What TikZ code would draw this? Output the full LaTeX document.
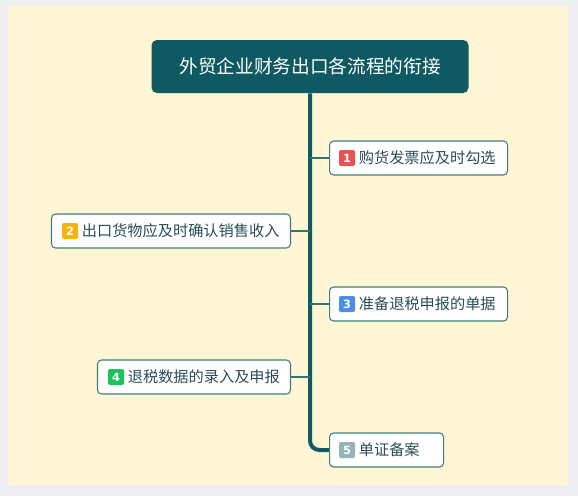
\documentclass[tikz,border=0pt]{standalone}
\usepackage{fontspec}
\setmainfont{Noto Sans CJK SC}
\newfontfamily\tagfont{DejaVu Sans}
\usetikzlibrary{positioning}
\definecolor{pageGray}{HTML}{EFEFF2}
\definecolor{paper}{HTML}{FFF6D6}
\definecolor{deepTeal}{HTML}{0E5962}
\definecolor{edgeTeal}{HTML}{3F7F78}
\definecolor{inkTeal}{HTML}{2A4E58}
\definecolor{tagRed}{HTML}{E8524F}
\definecolor{tagOrange}{HTML}{F6B40C}
\definecolor{tagBlue}{HTML}{4C8DEB}
\definecolor{tagGreen}{HTML}{1FC25A}
\definecolor{tagGray}{HTML}{94B3BA}

\begin{document}
\begin{tikzpicture}[x=0.75pt,y=-0.75pt,
  topic/.style={draw=edgeTeal,fill=white,rounded corners=3pt,line width=0.8pt,
    minimum height=25.5pt,inner sep=0pt},
  tag/.style={fill=#1,rounded corners=1.5pt,text=white,minimum size=12pt,inner sep=0pt,
    font=\tagfont\bfseries\fontsize{8.5}{8.5}\selectfont},
  lbl/.style={text=inkTeal,inner sep=0pt,font=\fontsize{11.4}{12}\selectfont},
  trunk/.style={draw=deepTeal,line width=3pt,rounded corners=7pt},
  twig/.style={draw=deepTeal!85,line width=1pt}]
% canvas
\fill[pageGray] (0,0) rectangle (578,496);
\fill[paper] (8,6) rectangle (568,485);
% central topic
\node[fill=deepTeal,rounded corners=4pt,minimum width=237.75pt,minimum height=39.75pt,
  text=white,font=\fontsize{14}{16}\selectfont] (title) at (310,66.5) {外贸企业财务出口各流程的衔接};
% subtopics, right side
\node[topic,minimum width=133.5pt,anchor=west] (b1) at (329,158) {};
\node[topic,minimum width=133.5pt,anchor=west] (b3) at (329,304) {};
\node[topic,minimum width=85.5pt,anchor=west] (b5) at (329,450) {};
% subtopics, left side
\node[topic,minimum width=179.25pt,anchor=east] (b2) at (291,231) {};
\node[topic,minimum width=144.75pt,anchor=east] (b4) at (291,377) {};
% tags and labels
\node[tag=tagRed] (t1) at (347,158) {1};
\node[lbl,right=2.5pt of t1] (l1) {购货发票应及时勾选};
\node[tag=tagOrange] (t2) at (70,231) {2};
\node[lbl,right=2.5pt of t2] (l2) {出口货物应及时确认销售收入};
\node[tag=tagBlue] (t3) at (347,304) {3};
\node[lbl,right=2.5pt of t3] (l3) {准备退税申报的单据};
\node[tag=tagGreen] (t4) at (116,377) {4};
\node[lbl,right=2.5pt of t4] (l4) {退税数据的录入及申报};
\node[tag=tagGray] (t5) at (347,450) {5};
\node[lbl,right=2.5pt of t5] (l5) {单证备案};
% connectors
\draw[trunk] (title.south) -- (title.south |- b5.west) -- (b5.west);
\draw[twig] (title.south |- b1.west) -- (b1.west);
\draw[twig] (title.south |- b3.west) -- (b3.west);
\draw[twig] (title.south |- b2.east) -- (b2.east);
\draw[twig] (title.south |- b4.east) -- (b4.east);
\end{tikzpicture}
\end{document}
